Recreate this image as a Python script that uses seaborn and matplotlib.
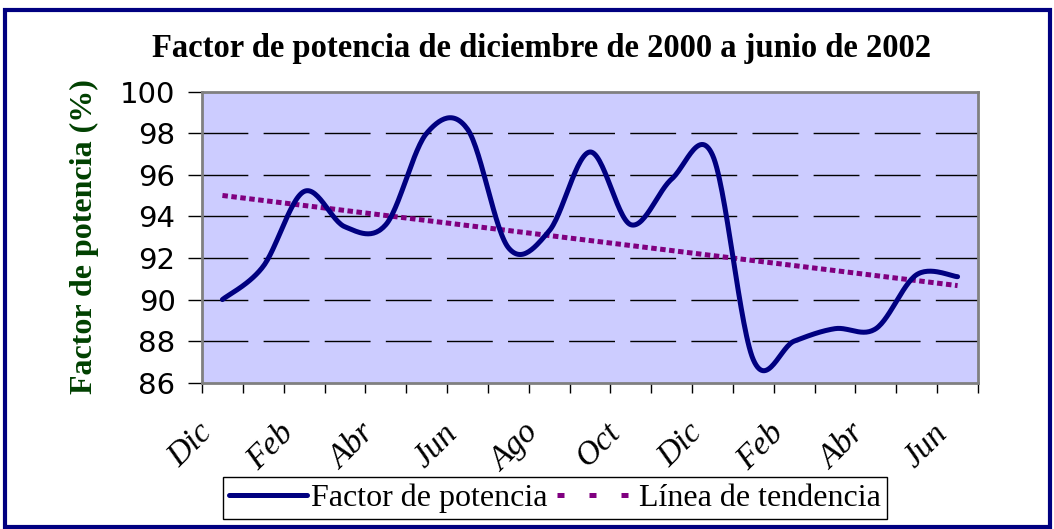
import numpy as np
import pandas as pd
import matplotlib
matplotlib.use("Agg")
import matplotlib.pyplot as plt
import matplotlib.transforms as mtransforms
from matplotlib.patches import Rectangle
from matplotlib.lines import Line2D
import seaborn as sns

# Monthly power factor, December 2000 to June 2002
months = ["Dic", "Ene", "Feb", "Mar", "Abr", "May", "Jun", "Jul", "Ago", "Sep",
          "Oct", "Nov", "Dic", "Ene", "Feb", "Mar", "Abr", "May", "Jun"]
factor = [90.0, 91.6, 95.2, 93.5, 93.6, 98.0, 98.2, 92.5, 93.3, 97.1,
          93.6, 95.8, 96.95, 87.1, 88.0, 88.6, 88.6, 91.2, 91.1]
y_ticks = [86, 88, 90, 92, 94, 96, 98, 100]

title = "Factor de potencia de diciembre de 2000 a junio de 2002"
y_label = "Factor de potencia (%)"
series_name = "Factor de potencia"
trend_name = "Línea de tendencia"

NAVY = "#000080"
PURPLE = "#800080"
PLOT_BG = "#CCCCFF"
DARK_GREEN = "#004000"
SERIF = ["Liberation Serif", "DejaVu Serif"]
SANS = ["DejaVu Sans"]


def smooth_curve(xs, ys, steps=30):
    """Catmull-Rom style Bezier smoothing through every point."""
    pts = np.column_stack([xs, ys]).astype(float)
    n = len(pts)
    out = []
    for i in range(n - 1):
        p0 = pts[max(i - 1, 0)]
        p1 = pts[i]
        p2 = pts[i + 1]
        p3 = pts[min(i + 2, n - 1)]
        c1 = p1 + (p2 - p0) / 6.0
        c2 = p2 - (p3 - p1) / 6.0
        t = np.linspace(0, 1, steps, endpoint=(i == n - 2))[:, None]
        seg = ((1 - t) ** 3) * p1 + 3 * ((1 - t) ** 2) * t * c1 \
            + 3 * (1 - t) * t ** 2 * c2 + t ** 3 * p2
        out.append(seg)
    out = np.vstack(out)
    return out[:, 0], out[:, 1]


idx = np.arange(len(months))
sx, sy = smooth_curve(idx, factor)
curve = pd.DataFrame({"x": sx, "y": sy})

slope, intercept = np.polyfit(idx, factor, 1)
trend = pd.DataFrame({"x": idx, "y": intercept + slope * idx})

sns.set_style("white")
plt.rcParams["font.family"] = SANS
plt.rcParams["text.color"] = "black"
plt.rcParams["xtick.color"] = "black"
plt.rcParams["ytick.color"] = "black"

fig = plt.figure(figsize=(10.54, 5.29), dpi=100)
ax = fig.add_axes([202 / 1054, 1 - 382.7 / 529, (978 - 202) / 1054, (382.7 - 91.7) / 529])
ax.set_facecolor(PLOT_BG)

# dashed horizontal gridlines
for v in y_ticks[1:-1]:
    ax.axhline(v, color="black", lw=1.0, linestyle=(0, (33, 11)), zorder=1)

sns.lineplot(data=trend, x="x", y="y", ax=ax, color=PURPLE, lw=3.6,
             linestyle=(0, (1.1, 0.7)), zorder=2, legend=False)
ax.lines[-1].set_dash_capstyle("butt")
sns.lineplot(data=curve, x="x", y="y", ax=ax, sort=False, estimator=None,
             color=NAVY, lw=3.6, zorder=3, legend=False)
ax.lines[-1].set_solid_capstyle("round")

ax.set_xlim(-0.5, len(months) - 0.5)
ax.set_ylim(86, 100)
ax.set_xlabel("")
ax.set_ylabel("")

# category ticks between months, labels on every other month
ax.set_xticks(idx[::2])
ax.set_xticklabels(months[::2], rotation=45, ha="right", va="center",
                   rotation_mode="anchor", fontfamily=SERIF, fontstyle="italic",
                   fontsize=24, color="black")
ax.set_xticks(np.arange(-0.5, len(months)), minor=True)
ax.tick_params(axis="x", which="major", bottom=True, length=0, pad=33)
ax.tick_params(axis="x", which="minor", bottom=True, length=7, width=1,
               color="black", direction="out")
shift = mtransforms.ScaledTranslation(-15 / 100, 0, fig.dpi_scale_trans)
for lab in ax.get_xticklabels():
    lab.set_transform(lab.get_transform() + shift)

ax.set_yticks(y_ticks)
ax.set_yticklabels([str(v) for v in y_ticks], fontsize=21, color="black")
ax.tick_params(axis="y", left=True, length=10, width=1, color="black",
               direction="out", pad=9)

for side in ax.spines.values():
    side.set_visible(True)
    side.set_color("#808080")
    side.set_linewidth(2)

fig.text(542 / 1054, 1 - 48 / 529, title, ha="center", va="center",
         fontfamily=SERIF, fontweight="bold", fontsize=23.5, color="black")
fig.text(84 / 1054, 1 - 237 / 529, y_label, ha="center", va="center", rotation=90,
         fontfamily=SERIF, fontweight="bold", fontsize=23, color=DARK_GREEN)

handles = [
    Line2D([], [], color=NAVY, lw=3.6),
    Line2D([], [], color=PURPLE, lw=3.6, linestyle=(0, (1.4, 5.0)), dash_capstyle="butt"),
]
leg = fig.legend(handles, [series_name, trend_name], loc="center",
                 bbox_to_anchor=(555 / 1054, 1 - 498 / 529), ncol=2,
                 prop={"family": SERIF, "size": 23}, frameon=True, fancybox=False,
                 edgecolor="black", framealpha=1, handlelength=2.45, handletextpad=0.12,
                 columnspacing=0.3, borderpad=0.2, borderaxespad=0)
leg.get_frame().set_linewidth(1)
for txt in leg.get_texts():
    txt.set_color("black")

# outer chart border
fig.patches.append(Rectangle((5 / 1054, 2 / 529), 1045 / 1054, 517 / 529,
                             transform=fig.transFigure, fill=False,
                             edgecolor=NAVY, lw=3, zorder=10))

fig.savefig("out.png", dpi=100)
